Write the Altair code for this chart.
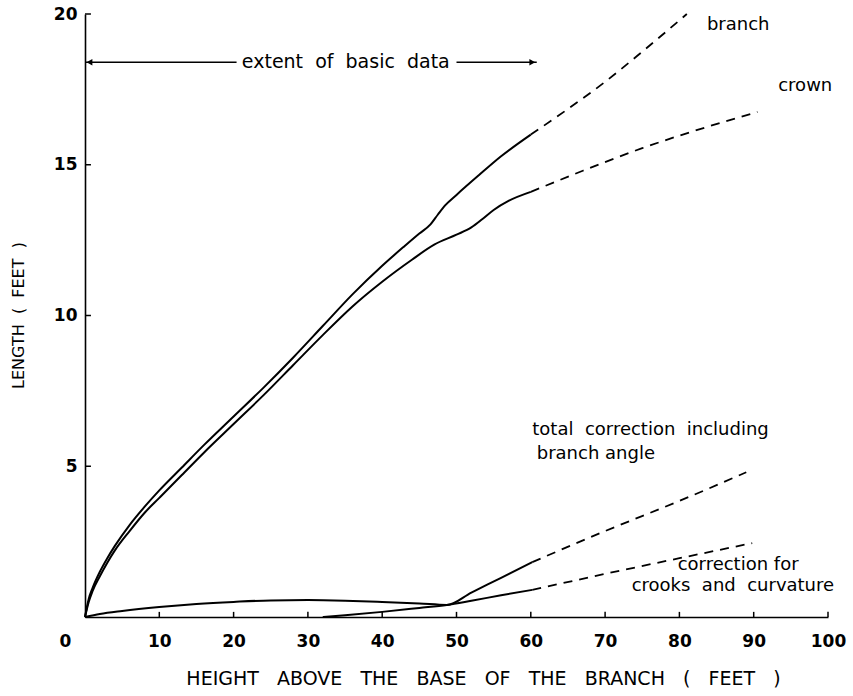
import altair as alt
import pandas as pd

# ---------------- data ----------------
branch_x = [0, 0.5, 1, 2, 3, 4, 6, 8, 10, 13, 16, 20, 24, 28, 32, 36, 40, 43, 45, 46.5, 47.5, 48.5, 50, 53, 56, 60]
branch_y = [0, 0.6, 0.95, 1.5, 1.95, 2.35, 3.05, 3.65, 4.2, 4.95, 5.7, 6.65, 7.6, 8.6, 9.65, 10.7, 11.65, 12.3, 12.72, 13.02, 13.35, 13.66, 14.0, 14.65, 15.28, 16.0]
branch_ext_x = [60, 65, 70, 75, 81]
branch_ext_y = [16.0, 16.85, 17.75, 18.75, 20.0]

crown_x = [0, 0.5, 1, 2, 3, 4, 6, 8, 10, 13, 16, 20, 24, 28, 32, 36, 40, 44, 47, 50, 52, 53.5, 55, 57, 60]
crown_y = [0, 0.5, 0.85, 1.35, 1.8, 2.2, 2.85, 3.45, 3.95, 4.7, 5.45, 6.4, 7.35, 8.35, 9.35, 10.3, 11.12, 11.85, 12.35, 12.68, 12.92, 13.2, 13.5, 13.8, 14.1]
crown_ext_x = [60, 67, 75, 83, 90.5]
crown_ext_y = [14.1, 14.8, 15.55, 16.2, 16.75]

total_x = [0, 2, 5, 10, 15, 20, 25, 30, 35, 40, 45, 48.7, 52, 56, 60.2]
total_y = [0, 0.1, 0.2, 0.33, 0.43, 0.5, 0.55, 0.56, 0.54, 0.5, 0.45, 0.4, 0.81, 1.3, 1.82]
total_ext_x = [60.2, 70, 80, 89]
total_ext_y = [1.82, 2.85, 3.85, 4.8]

crooks_x = [32, 35, 40, 45, 48.7, 52, 56, 60.2]
crooks_y = [0, 0.06, 0.17, 0.3, 0.4, 0.54, 0.72, 0.9]
crooks_ext_x = [60.2, 70, 80, 89.8]
crooks_ext_y = [0.9, 1.43, 1.95, 2.45]

x_tick_values = [0, 10, 20, 30, 40, 50, 60, 70, 80, 90, 100]
x_tick_marks = [10, 20, 30, 40, 50, 60, 70, 80, 90, 100]
y_tick_values = [5, 10, 15, 20]

extent_start = 0
extent_end = 60.8
extent_level = 18.4

NB = "\u00a0"
SP2 = NB * 2
SP3 = NB * 3
left_labels = ["branch", "crown", f"total{SP2}correction{SP2}including", "branch angle"]
left_label_x = [83.7, 93.3, 60.2, 60.8]
left_label_y = [19.63, 17.6, 6.2, 5.4]
center_labels = ["correction for", f"crooks{SP2}and{SP2}curvature", f"extent{SP2}of{SP2}basic{SP2}data"]
center_label_x = [87.9, 87.2, 35.1]
center_label_y = [1.72, 1.03, 18.4]
center_label_size = [18, 18, 19]
extent_text_left = 20.4
extent_text_right = 50.0

x_title = SP3.join(["HEIGHT", "ABOVE", "THE", "BASE", "OF", "THE", "BRANCH", "(", "FEET", ")"])
y_title = SP2.join(["LENGTH", "(", "FEET", ")"])


def frame(name, xs, ys):
    return pd.DataFrame({"series": name, "x": xs, "y": ys, "i": list(range(len(xs)))})


solid = pd.concat([
    frame("branch", branch_x, branch_y),
    frame("crown", crown_x, crown_y),
    frame("total", total_x, total_y),
    frame("crooks", crooks_x, crooks_y),
])
dashed = pd.concat([
    frame("branch", branch_ext_x, branch_ext_y),
    frame("crown", crown_ext_x, crown_ext_y),
    frame("total", total_ext_x, total_ext_y),
    frame("crooks", crooks_ext_x, crooks_ext_y),
])

FONT = "DejaVu Sans"
xs = alt.Scale(domain=[0, 100], nice=False, zero=True)
ys = alt.Scale(domain=[0, 20], nice=False, zero=True)

x_axis = alt.Axis(
    values=x_tick_values, ticks=False, tickSize=0, grid=False,
    domainColor="black", domainWidth=1.6,
    labelFont=FONT, labelFontSize=17, labelFontWeight="bold", labelColor="black", labelPadding=16,
    labelFlush=False, labelOverlap=False,
    labelOffset={"condition": {"test": "datum.value == 0", "value": -20}, "value": 0},
    title=x_title,
    titleFont=FONT, titleFontSize=19, titleFontWeight="normal", titleColor="black",
    titleX=398, titleY=61, titleBaseline="middle", titleAlign="center",
)
y_axis = alt.Axis(
    values=y_tick_values, ticks=False, tickSize=0, grid=False,
    domainColor="black", domainWidth=1.6,
    labelFont=FONT, labelFontSize=17, labelFontWeight="bold", labelColor="black", labelPadding=8,
    labelFlush=False, labelOverlap=False,
    title=y_title,
    titleFont=FONT, titleFontSize=16, titleFontWeight="normal", titleColor="black",
    titleX=-67, titleY=301, titleAngle=270, titleBaseline="middle", titleAlign="center",
)

X = alt.X("x:Q", scale=xs, axis=x_axis)
Y = alt.Y("y:Q", scale=ys, axis=y_axis)

solid_layer = alt.Chart(solid).mark_line(color="black", strokeWidth=2, interpolate="monotone").encode(
    x=X, y=Y, detail="series:N", order="i:Q"
)
dashed_layer = alt.Chart(dashed).mark_line(color="black", strokeWidth=1.8, strokeDash=[9, 7], interpolate="monotone").encode(
    x=X, y=Y, detail="series:N", order="i:Q"
)

xt = pd.DataFrame({"x": x_tick_marks, "y": [0] * len(x_tick_marks), "y2": [0.17] * len(x_tick_marks)})
yt = pd.DataFrame({"x": [0] * len(y_tick_values), "x2": [0.8] * len(y_tick_values), "y": y_tick_values})
xtick_layer = alt.Chart(xt).mark_rule(color="black", strokeWidth=1.5).encode(x=X, y=Y, y2="y2:Q")
ytick_layer = alt.Chart(yt).mark_rule(color="black", strokeWidth=1.5).encode(x=X, x2="x2:Q", y=Y)

arrow_df = pd.DataFrame({
    "x": [extent_start, extent_text_right],
    "x2": [extent_text_left, extent_end],
    "y": [extent_level, extent_level],
})
arrow_layer = alt.Chart(arrow_df).mark_rule(color="black", strokeWidth=1.3).encode(x=X, x2="x2:Q", y=Y)
head_l = alt.Chart(pd.DataFrame({"x": [extent_start + 0.6], "y": [extent_level]})).mark_point(
    shape="triangle-left", filled=True, color="black", size=45, opacity=1).encode(x=X, y=Y)
head_r = alt.Chart(pd.DataFrame({"x": [extent_end - 0.6], "y": [extent_level]})).mark_point(
    shape="triangle-right", filled=True, color="black", size=45, opacity=1).encode(x=X, y=Y)

left_df = pd.DataFrame({"label": left_labels, "x": left_label_x, "y": left_label_y})
center_df = pd.DataFrame({"label": center_labels, "x": center_label_x, "y": center_label_y, "s": center_label_size})
left_text = alt.Chart(left_df).mark_text(align="left", baseline="middle", font=FONT, fontSize=18, color="black").encode(
    x=X, y=Y, text="label:N")
center_text = alt.Chart(center_df).mark_text(align="center", baseline="middle", font=FONT, color="black").encode(
    x=X, y=Y, text="label:N", size=alt.Size("s:Q", scale=None, legend=None))

chart = alt.layer(
    solid_layer, dashed_layer, xtick_layer, ytick_layer, arrow_layer, head_l, head_r, left_text, center_text
).properties(
    width=743, height=603,
    autosize=alt.AutoSizeParams(type="none"),
    padding={"left": 85, "top": 14, "right": 25, "bottom": 79},
    background="white",
).configure_view(stroke=None)

chart.save("out.html", embed_options={"renderer": "svg", "actions": False})
